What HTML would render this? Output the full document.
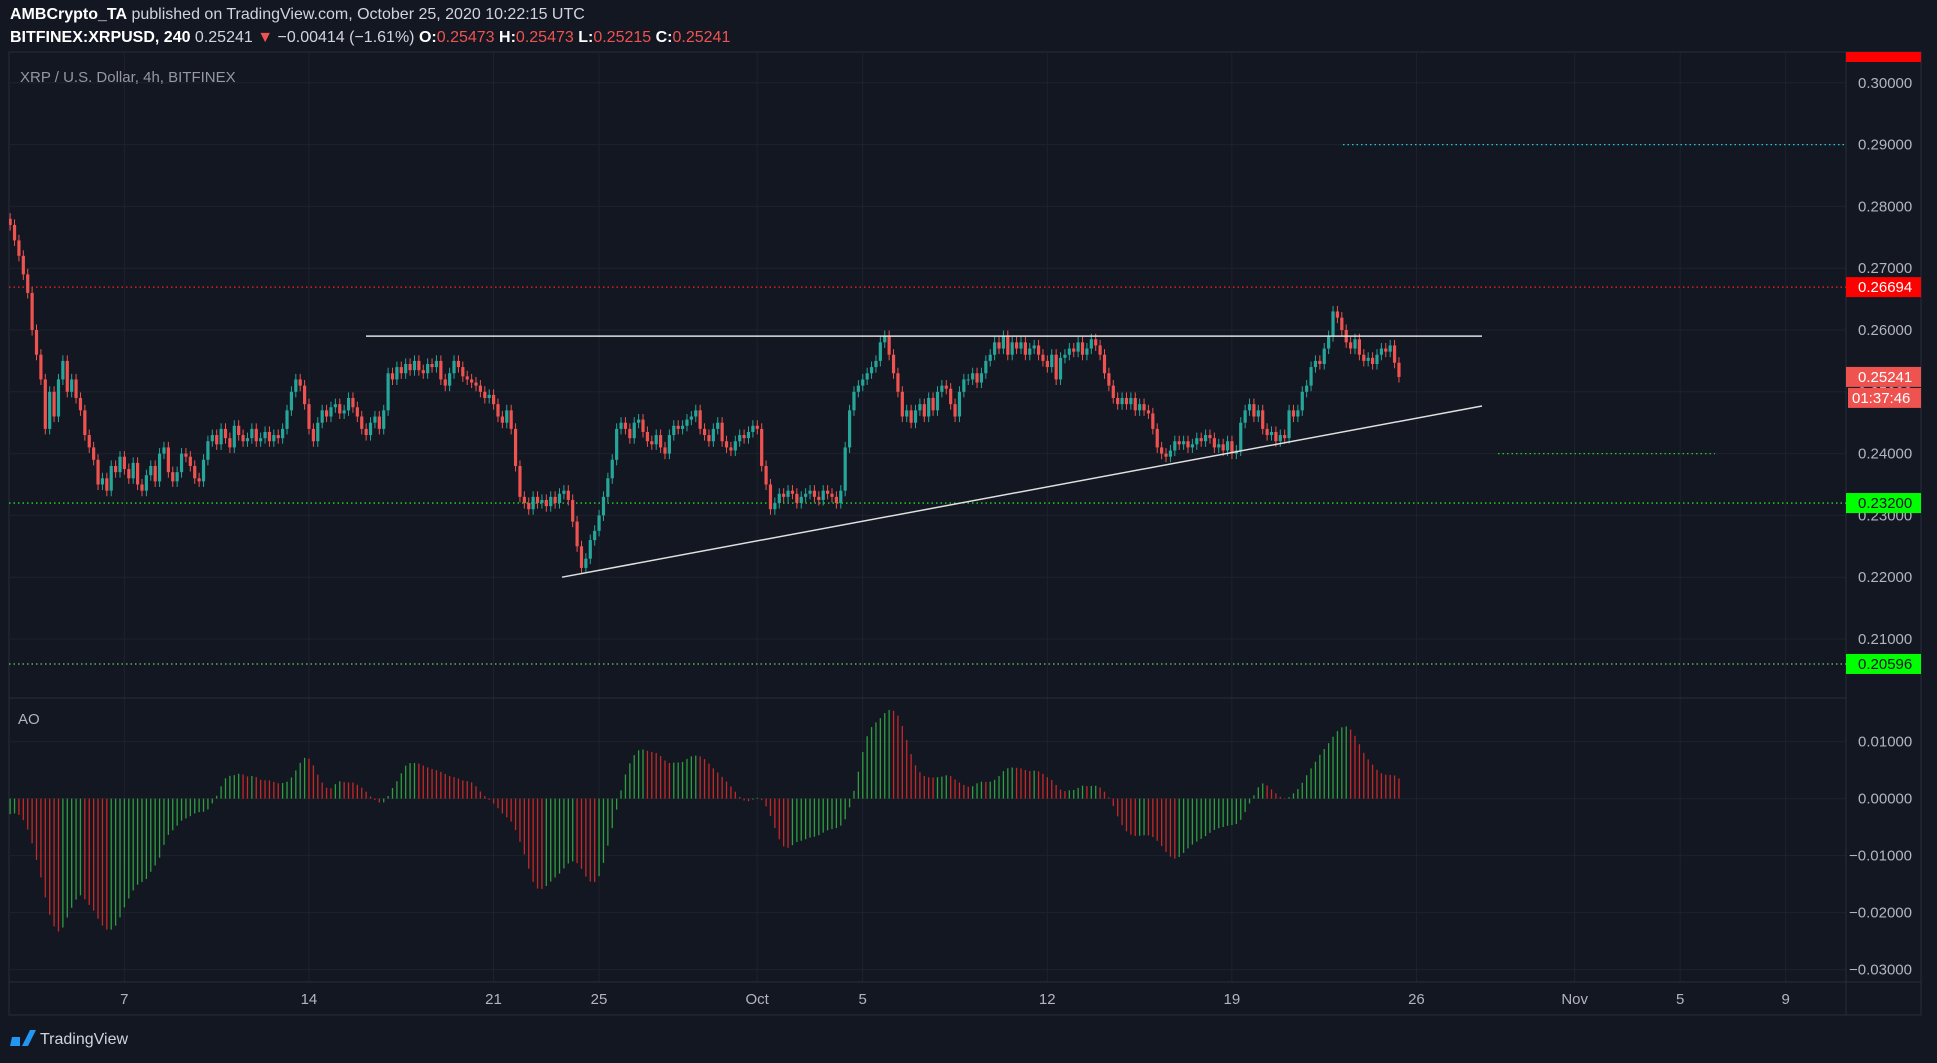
<!DOCTYPE html>
<html><head><meta charset="utf-8"><style>
html,body{margin:0;padding:0;background:#131722;width:1937px;height:1063px;overflow:hidden;font-family:"Liberation Sans",sans-serif}
.hdr{position:absolute;left:10px;color:#d1d4dc;font-size:16px;white-space:nowrap}
.hdr b{color:#fff}
.r{color:#ef5350}
</style></head><body>
<div class="hdr" style="top:6px"><b>AMBCrypto_TA</b> published on TradingView.com, October 25, 2020 10:22:15 UTC</div>
<div class="hdr" style="top:29px"><b>BITFINEX:XRPUSD, 240</b> 0.25241 <span class="r">▼</span> −0.00414 (−1.61%) <b>O:</b><span class="r">0.25473</span> <b>H:</b><span class="r">0.25473</span> <b>L:</b><span class="r">0.25215</span> <b>C:</b><span class="r">0.25241</span></div>
<svg id="c" width="1937" height="1063" style="position:absolute;left:0;top:0">
<defs><clipPath id="pc"><rect x="9" y="52" width="1837" height="646"/></clipPath><clipPath id="ac"><rect x="9" y="698" width="1837" height="284"/></clipPath></defs>
<g id="bg"></g><g id="pg" clip-path="url(#pc)"></g><g id="ag" clip-path="url(#ac)"></g>
</svg>
<script>
const preHistory=[0.2800,0.2810,0.2795,0.2805,0.2820,0.2815,0.2800,0.2790,0.2805,0.2810,0.2830,0.2820,0.2800,0.2795,0.2810,0.2820,0.2825,0.2810,0.2800,0.2790,0.2800,0.2810,0.2805,0.2790,0.2780,0.2770,0.2785,0.2790,0.2780,0.2770,0.2765,0.2760,0.2755];
const closes=[0.2760,0.2775,0.2780,0.2770,0.2745,
0.2720,0.2690,0.2660,0.2600,0.2560,0.2520,
0.2440,0.2500,0.2460,0.2520,0.2550,0.2500,
0.2520,0.2490,0.2470,0.2430,0.2410,0.2390,
0.2350,0.2360,0.2340,0.2380,0.2370,0.2395,
0.2375,0.2360,0.2385,0.2350,0.2340,0.2365,
0.2380,0.2355,0.2400,0.2410,0.2370,0.2355,
0.2370,0.2400,0.2395,0.2380,0.2360,0.2355,
0.2390,0.2420,0.2430,0.2415,0.2440,0.2425,
0.2410,0.2445,0.2430,0.2420,0.2425,0.2440,
0.2420,0.2425,0.2435,0.2420,0.2430,0.2425,
0.2440,0.2470,0.2500,0.2520,0.2510,0.2480,
0.2440,0.2420,0.2450,0.2470,0.2460,0.2475,
0.2480,0.2465,0.2470,0.2490,0.2475,0.2460,
0.2440,0.2430,0.2450,0.2460,0.2440,0.2470,
0.2530,0.2520,0.2540,0.2530,0.2545,0.2535,
0.2550,0.2535,0.2530,0.2545,0.2540,0.2550,
0.2520,0.2510,0.2530,0.2550,0.2540,0.2525,
0.2520,0.2515,0.2510,0.2500,0.2490,0.2495,
0.2480,0.2460,0.2450,0.2470,0.2440,0.2380,
0.2330,0.2320,0.2310,0.2330,0.2320,0.2325,
0.2315,0.2330,0.2320,0.2335,0.2340,0.2325,
0.2290,0.2250,0.2215,0.2230,0.2260,0.2275,
0.2300,0.2330,0.2360,0.2390,0.2440,0.2450,
0.2440,0.2425,0.2450,0.2455,0.2435,0.2420,
0.2415,0.2430,0.2410,0.2400,0.2430,0.2445,
0.2440,0.2445,0.2455,0.2460,0.2470,0.2440,
0.2430,0.2420,0.2440,0.2450,0.2420,0.2410,
0.2405,0.2420,0.2430,0.2425,0.2435,0.2445,
0.2440,0.2380,0.2350,0.2310,0.2320,0.2335,
0.2330,0.2340,0.2335,0.2320,0.2330,0.2335,
0.2340,0.2330,0.2325,0.2340,0.2335,0.2330,
0.2320,0.2340,0.2410,0.2470,0.2500,0.2510,
0.2520,0.2530,0.2540,0.2550,0.2580,0.2590,
0.2560,0.2530,0.2500,0.2460,0.2470,0.2450,
0.2470,0.2480,0.2460,0.2490,0.2470,0.2500,
0.2510,0.2505,0.2480,0.2460,0.2500,0.2520,
0.2520,0.2530,0.2515,0.2530,0.2550,0.2560,
0.2580,0.2570,0.2590,0.2560,0.2580,0.2570,
0.2580,0.2560,0.2570,0.2575,0.2560,0.2550,
0.2540,0.2560,0.2520,0.2555,0.2560,0.2570,
0.2565,0.2580,0.2560,0.2570,0.2585,0.2575,
0.2560,0.2530,0.2510,0.2490,0.2480,0.2490,
0.2480,0.2490,0.2470,0.2480,0.2470,0.2465,
0.2440,0.2410,0.2400,0.2395,0.2405,0.2420,
0.2415,0.2420,0.2410,0.2415,0.2425,0.2420,
0.2430,0.2425,0.2410,0.2415,0.2405,0.2420,
0.2400,0.2405,0.2450,0.2470,0.2480,0.2460,
0.2470,0.2440,0.2430,0.2435,0.2420,0.2430,
0.2425,0.2470,0.2460,0.2470,0.2500,0.2510,
0.2540,0.2550,0.2545,0.2570,0.2590,0.2630,
0.2620,0.2600,0.2580,0.2570,0.2585,0.2560,
0.2550,0.2555,0.2545,0.2560,0.2570,0.2565,
0.2575,0.2547,0.2524];
const priceTicks=["0.30000","0.29000","0.28000","0.27000","0.26000","0.25000","0.24000","0.23000","0.22000","0.21000"];
const priceTickVals=[0.30,0.29,0.28,0.27,0.26,0.25,0.24,0.23,0.22,0.21];
const aoTicks=["0.01000","0.00000","−0.01000","−0.02000","−0.03000"];
const aoTickVals=[0.01,0,-0.01,-0.02,-0.03];
const dateLabels=["7","14","21","25","Oct","5","12","19","26","Nov","5","9"];
const dateDays=[-24,-17,-10,-6,0,4,11,18,25,31,35,39];
const levels={res:0.26694,sup:0.232,low:0.20596,cyan:0.29,green2:0.240,last:0.25241,flat:0.259,triLo:0.2200,triHi:0.2477};
const startDay=-28.83;

const svg=document.getElementById('c');const NS='http://www.w3.org/2000/svg';
const PG=document.getElementById('pg'),AG=document.getElementById('ag'),BG=document.getElementById('bg');
function el(t,a,p){const e=document.createElementNS(NS,t);for(const k in a)e.setAttribute(k,a[k]);(p||svg).appendChild(e);return e;}
const L=9,R=1846,PT=52,PB=698,AB=982;
const yP=p=>82.8+(0.30-p)*6180;
const yA=v=>798.6-v*5700;
const xD=d=>757.2+d*26.37;
const xI=i=>xD(startDay+i/6);

let g;
g=el('rect',{x:L,y:PT,width:1912,height:963,fill:'none',stroke:'#2a2e39'},BG);
priceTickVals.forEach((v,i)=>{let l=el('line',{x1:L,x2:R,y1:yP(v),y2:yP(v),stroke:'#1e222d'},BG);});
aoTickVals.forEach(v=>{let l=el('line',{x1:L,x2:R,y1:yA(v),y2:yA(v),stroke:'#1e222d'},BG);});
dateDays.forEach(d=>{let l=el('line',{x1:xD(d),x2:xD(d),y1:PT,y2:AB,stroke:'#1e222d'},BG);});
[[L,R,PB,PB],[R,R,PT,1015],[L,1921,AB,AB],[L,1921,1015,1015]].forEach(a=>{let l=el('line',{x1:a[0],x2:a[1],y1:a[2],y2:a[3],stroke:'#2a2e39'},BG);});
function hl(p,x1,x2,c,n){let l=el('line',{x1:x1,x2:x2,y1:yP(p),y2:yP(p),stroke:c,'stroke-dasharray':'1.5 3','stroke-width':1.3},PG);}
hl(levels.res,L,R,'#ff2020','resistance-line');
hl(levels.sup,L,R,'#22dd22','support-line');
hl(levels.low,L,R,'#66cc66','low-support-line');
hl(levels.cyan,1343,R,'#26c6da','target-line');
hl(levels.green2,1498,1715,'#22cc22','target-line-2');
let prev=closes[0]-0.0010;
closes.forEach((c,i)=>{const o=prev;prev=c;const up=c>=o;const col=up?'#26a69a':'#ef5350';const x=xI(i);
 const hi=Math.max(o,c)+0.0009,lo=Math.min(o,c)-0.0009;
 let w=el('line',{x1:x,x2:x,y1:yP(hi),y2:yP(lo),stroke:col},PG);
 const yt=yP(Math.max(o,c)),yb=yP(Math.min(o,c));
 let b=el('rect',{x:x-1.6,y:yt,width:3.2,height:Math.max(1,yb-yt),fill:col},PG);});
let t1=el('line',{x1:366,x2:1482,y1:yP(levels.flat),y2:yP(levels.flat),stroke:'#e0e0e0','stroke-width':1.5},PG);
let t2=el('line',{x1:562,x2:1482,y1:yP(levels.triLo),y2:yP(levels.triHi),stroke:'#e0e0e0','stroke-width':1.5},PG);
const all=preHistory.concat(closes);const med=[];let pv=all[0];all.forEach(c=>{med.push((pv+c)/2);pv=c;});
function sma(a,i,n){let s=0;for(let k=i-n+1;k<=i;k++)s+=a[k];return s/n;}
let prevAo=null;
for(let j=33;j<all.length;j++){const ao=sma(med,j,5)-sma(med,j,34);const i=j-preHistory.length;
 if(i>=0){const col=(prevAo===null||ao>=prevAo)?'#2e9e3e':'#c62828';
 let b=el('line',{x1:xI(i),x2:xI(i),y1:yA(0),y2:yA(ao),stroke:col,'stroke-width':1.3},AG);}
 prevAo=ao;}
function tx(x,y,s,a){let t=el('text',Object.assign({x:x,y:y,fill:'#b2b5be','font-size':15,'font-family':'Liberation Sans, sans-serif'},a||{}));t.textContent=s;return t;}
priceTicks.forEach((s,i)=>{let t=tx(1858,yP(priceTickVals[i])+5,s);});
aoTicks.forEach((s,i)=>{let t=tx(s[0]=='−'?1849:1858,yA(aoTickVals[i])+5,s);});
dateLabels.forEach((s,i)=>{let t=tx(xD(dateDays[i]),1004,s,{'text-anchor':'middle'});});
function tag(p,bg,fg,s,n){const y=yP(p);let r=el('rect',{x:1846,y:y-10,width:75,height:20,fill:bg});
 let t=tx(1858,y+5,s,{fill:fg});}
let topr=el('rect',{x:1846,y:52,width:75,height:10,fill:'#ff0000'});
tag(levels.res,'#ff0000','#fff','0.26694','resistance-tag');
tag(levels.last,'#ef5350','#fff','0.25241','last-price-tag');
let cr=el('rect',{x:1848,y:yP(levels.last)+11,width:73,height:20,fill:'#ef5350'});
let ct=tx(1852,yP(levels.last)+26,'01:37:46',{fill:'#fff'});
tag(levels.sup,'#00ff00','#131722','0.23200','support-tag');
tag(levels.low,'#00ff00','#131722','0.20596','low-support-tag');
let lg=tx(20,82,'XRP / U.S. Dollar, 4h, BITFINEX',{fill:'#9598a1','font-size':15});
let ao=tx(18,724,'AO',{fill:'#b2b5be','font-size':15});
let lgo=el('path',{d:'M10 1046 h10 v-9 h-8 z M22 1046 l8 -16 h6 l-8 16 z',fill:'#2196f3'});
let lt=tx(40,1044,'TradingView',{fill:'#d1d4dc','font-size':16});
</script>
</body></html>
